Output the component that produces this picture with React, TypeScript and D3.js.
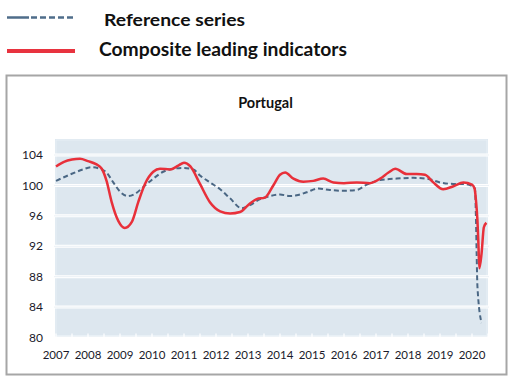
import React from "react";
import * as d3 from "d3";

const yearLabels = ["2007","2008","2009","2010","2011","2012","2013","2014","2015","2016","2017","2018","2019","2020"];
const yTicks = [80, 84, 88, 92, 96, 100, 104];

const cliDates = [2007.0,2007.25,2007.5,2007.75,2008.0,2008.25,2008.43,2008.58,2008.74,2008.95,2009.15,2009.37,2009.57,2009.78,2010.04,2010.25,2010.56,2010.82,2011.0,2011.2,2011.5,2011.81,2012.13,2012.44,2012.75,2013.0,2013.27,2013.53,2013.79,2014.0,2014.16,2014.42,2014.73,2015.04,2015.35,2015.67,2016.0,2016.4,2016.81,2017.13,2017.39,2017.6,2017.96,2018.27,2018.53,2018.79,2019.1,2019.42,2019.73,2020.0,2020.08,2020.125,2020.17,2020.2,2020.23,2020.3,2020.37,2020.45];
const cliValues = [102.5,103.1,103.4,103.5,103.2,102.8,102.2,100.6,97.8,95.3,94.4,95.2,97.8,100.2,101.8,102.2,102.1,102.6,103.0,102.5,100.2,97.8,96.6,96.3,96.5,97.4,98.2,98.4,100.0,101.4,101.7,100.9,100.5,100.6,100.9,100.4,100.3,100.4,100.3,100.9,101.7,102.2,101.5,101.5,101.4,100.4,99.5,99.9,100.4,100.1,99.6,98.0,95.4,92.4,89.1,91.1,94.5,95.1];

const refDates = [2007.0,2007.42,2007.84,2008.1,2008.37,2008.58,2008.79,2009.0,2009.24,2009.47,2009.73,2010.04,2010.35,2010.67,2010.98,2011.29,2011.5,2011.81,2012.13,2012.44,2012.8,2013.06,2013.38,2013.69,2014.0,2014.31,2014.52,2014.83,2015.2,2015.56,2015.98,2016.4,2016.71,2017.13,2017.65,2018.17,2018.58,2019.0,2019.42,2019.73,2020.02,2020.09,2020.125,2020.145,2020.17,2020.3];
const refValues = [100.6,101.4,102.1,102.4,102.2,101.7,100.4,99.2,98.6,98.9,99.8,100.9,101.8,102.2,102.3,102.1,101.3,100.4,99.5,98.3,97.0,97.4,98.2,98.6,98.8,98.6,98.7,99.1,99.6,99.4,99.3,99.4,100.1,100.7,100.9,101.0,100.9,100.4,100.2,100.2,99.9,99.6,95.4,91.1,86.7,81.9];

const W = 529, H = 379;
const PL = 54, PR = 489, PT = 138, PB = 337.5;

export default function App() {
  const x = d3.scaleLinear().domain([2007, 2020]).range([56, 472]);
  const y = d3.scaleLinear().domain([80, 106.24]).range([PB, PT]);
  const line = d3.line<[number, number]>().x(d => x(d[0])).y(d => y(d[1])).curve(d3.curveMonotoneX);
  const cli = line(cliDates.map((d, i) => [d, cliValues[i]]) as [number, number][]) || "";
  const ref = line(refDates.map((d, i) => [d, refValues[i]]) as [number, number][]) || "";
  const halfTicks: number[] = [];
  for (let t = 2007; t <= 2020.5; t += 0.5) halfTicks.push(t);
  const font = "Lato, 'Open Sans', sans-serif";
  return (
    <svg width={W} height={H} style={{ position: "absolute", left: 0, top: 0, background: "#fff" }} fontFamily={font}>
      {/* legend */}
      <line x1={7} x2={29} y1={17.5} y2={17.5} stroke="#4f6d8a" strokeWidth={2.5} />
      <line x1={31} x2={74} y1={17.5} y2={17.5} stroke="#4f6d8a" strokeWidth={2.5} strokeDasharray="6,3" />
      <text x={104} y={25.7} fontSize={17.5} fontWeight="bold" fill="#111" textLength={141} lengthAdjust="spacingAndGlyphs">Reference series</text>
      <line x1={7} x2={75} y1={51} y2={51} stroke="#e8333f" strokeWidth={4} />
      <text x={99} y={55.7} fontSize={18.5} fontWeight="bold" fill="#111" textLength={248} lengthAdjust="spacingAndGlyphs">Composite leading indicators</text>
      {/* frame */}
      <rect x={6.5} y={75.5} width={500} height={299} fill="#fff" stroke="#a6a6a6" strokeWidth={2} />
      <text x={265.5} y={107.7} textAnchor="middle" fontSize={14.5} fontWeight="bold" fill="#111">Portugal</text>
      {/* plot area */}
      <rect x={PL} y={PT} width={PR - PL} height={PB - PT} fill="#dde7ef" stroke="#fff" strokeWidth={2} />
      <rect x={PL + 2} y={PT + 2} width={PR - PL - 4} height={PB - PT - 4} fill="none" stroke="#e8f0f6" strokeWidth={1} />
      {yTicks.filter(v => v > 80).map(v => (
        <g key={v}>
          <line x1={PL} x2={PR} y1={y(v)} y2={y(v)} stroke="#fff" strokeWidth={3} />
          <line x1={PL} x2={PR} y1={y(v)} y2={y(v)} stroke="#e6eef4" strokeWidth={0.8} />
        </g>
      ))}
      {halfTicks.map(t => (
        <line key={t} x1={x(t)} x2={x(t)} y1={PB} y2={PB - 4} stroke="#fff" strokeWidth={1.2} />
      ))}
      {yTicks.map(v => (
        <text key={v} x={43} y={y(v)} dy="0.35em" textAnchor="end" fontSize={12} fill="#1a1a2a">{v}</text>
      ))}
      {yearLabels.map(l => (
        <text key={l} x={x(+l)} y={359} textAnchor="middle" fontSize={11.5} fill="#1a1a2a">{l}</text>
      ))}
      <path d={ref} fill="none" stroke="#4a6784" strokeWidth={2} strokeDasharray="5,3" />
      <path d={cli} fill="none" stroke="#e8303a" strokeWidth={2.5} strokeLinejoin="round" />
    </svg>
  );
}
